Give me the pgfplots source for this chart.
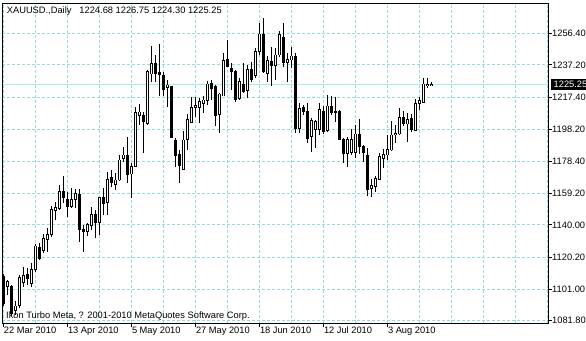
\documentclass[border=0pt]{standalone}
\usepackage{pgfplots}
\pgfplotsset{compat=1.18}
\usepackage{pgfplotstable}
\usepackage{fontspec}
\setmainfont{Liberation Sans}
\newcommand{\lab}{\fontsize{9.3pt}{11pt}\selectfont}
\definecolor{gridc}{RGB}{150,220,220}
\definecolor{pricec}{RGB}{170,236,236}

\pgfplotstableread{
i o h l c
0 1108.5 1110.2 1090.7 1092.4
1 1102.5 1106.5 1097.4 1105.5
2 1102.9 1103.5 1084.7 1086.3
3 1087.9 1093.8 1085.3 1090.7
4 1091.0 1109.6 1089.5 1108.2
5 1104.9 1114.6 1102.5 1109.1
6 1110.2 1113.6 1103.5 1107.6
7 1104.5 1116.7 1102.5 1113.0
8 1113.0 1128.4 1111.6 1127.2
9 1126.0 1128.8 1118.7 1119.7
10 1124.7 1134.5 1123.1 1131.9
11 1131.3 1138.1 1123.5 1133.9
12 1133.9 1151.5 1132.6 1149.5
13 1149.0 1154.1 1143.0 1150.7
14 1150.1 1164.2 1149.0 1160.2
15 1160.2 1169.7 1153.1 1156.5
16 1155.6 1160.2 1145.0 1151.1
17 1151.1 1162.2 1150.1 1155.6
18 1155.6 1161.6 1150.1 1159.2
19 1158.6 1161.6 1129.8 1137.3
20 1137.3 1139.9 1123.7 1135.9
21 1135.9 1141.3 1133.3 1140.4
22 1139.9 1151.1 1136.9 1146.4
23 1146.4 1149.0 1131.9 1141.6
24 1141.6 1157.1 1133.9 1156.5
25 1156.5 1162.2 1146.0 1153.1
26 1153.5 1172.3 1146.0 1167.7
27 1169.1 1173.3 1163.2 1165.6
28 1164.7 1171.3 1161.2 1167.3
29 1167.3 1182.5 1166.7 1179.4
30 1180.5 1187.5 1178.4 1182.5
31 1182.5 1193.2 1165.6 1170.7
32 1170.9 1177.8 1156.2 1175.4
33 1175.4 1211.8 1175.2 1208.4
34 1206.5 1213.4 1200.7 1208.6
35 1206.8 1208.8 1183.9 1202.7
36 1201.7 1234.1 1200.7 1233.1
37 1231.7 1248.7 1227.0 1238.2
38 1238.2 1243.2 1227.0 1232.1
39 1232.5 1249.9 1218.3 1231.1
40 1230.5 1233.1 1218.3 1222.4
41 1223.6 1228.0 1211.8 1225.0
42 1224.0 1224.4 1192.6 1193.2
43 1191.1 1192.6 1175.4 1182.0
44 1183.1 1185.5 1165.6 1176.0
45 1173.8 1197.2 1173.3 1191.6
46 1192.0 1207.4 1185.5 1204.2
47 1202.1 1217.5 1201.7 1211.4
48 1211.4 1217.5 1205.7 1212.8
49 1211.4 1216.9 1201.7 1214.8
50 1213.9 1218.3 1207.8 1215.9
51 1215.4 1227.6 1212.8 1225.6
52 1226.0 1228.0 1215.9 1222.6
53 1224.0 1225.0 1200.1 1206.2
54 1206.8 1219.9 1196.0 1219.5
55 1218.3 1244.6 1218.3 1239.7
56 1240.6 1252.3 1236.1 1236.1
57 1235.1 1238.5 1221.9 1233.1
58 1233.1 1234.1 1214.8 1215.9
59 1216.9 1229.1 1215.9 1227.0
60 1225.6 1238.2 1219.9 1220.9
61 1221.9 1237.1 1216.9 1234.5
62 1234.5 1239.1 1227.0 1228.5
63 1230.5 1247.3 1229.1 1245.2
64 1245.2 1262.8 1243.2 1256.0
65 1256.0 1265.5 1232.1 1233.1
66 1232.1 1242.6 1227.0 1239.7
67 1239.1 1247.9 1224.4 1237.1
68 1237.1 1247.3 1228.0 1243.2
69 1243.2 1258.0 1242.2 1255.4
70 1254.0 1262.5 1235.7 1238.5
71 1238.5 1244.6 1227.0 1240.6
72 1240.2 1248.3 1235.1 1242.6
73 1242.6 1244.6 1196.0 1198.7
74 1198.7 1213.9 1196.0 1210.8
75 1211.4 1212.8 1206.8 1208.8
76 1208.8 1213.9 1189.6 1192.2
77 1193.6 1204.8 1184.5 1203.3
78 1198.1 1203.7 1186.5 1202.7
79 1198.1 1214.2 1194.6 1210.2
80 1208.8 1212.2 1195.2 1196.6
81 1197.2 1218.9 1196.6 1212.2
82 1212.2 1218.3 1206.8 1208.2
83 1208.8 1217.5 1202.7 1208.2
84 1208.8 1209.8 1191.6 1192.0
85 1192.0 1192.6 1177.4 1183.1
86 1183.5 1193.2 1175.4 1192.0
87 1183.9 1198.1 1182.5 1192.0
88 1183.9 1200.7 1180.5 1195.2
89 1195.2 1204.2 1183.1 1187.9
90 1187.9 1188.5 1178.4 1183.9
91 1182.5 1186.5 1157.6 1161.6
92 1162.2 1167.7 1156.8 1164.2
93 1163.2 1169.7 1160.2 1168.3
94 1167.7 1183.9 1167.3 1181.4
95 1180.5 1185.9 1174.4 1182.9
96 1182.5 1194.6 1179.4 1185.9
97 1185.5 1203.3 1185.1 1194.6
98 1194.6 1200.7 1189.6 1195.6
99 1195.2 1210.8 1194.6 1205.4
100 1205.4 1209.4 1200.1 1201.3
101 1201.3 1207.8 1190.5 1204.2
102 1204.8 1207.4 1196.6 1198.1
103 1197.6 1216.3 1197.2 1213.9
104 1213.9 1217.5 1209.8 1215.3
105 1214.2 1229.1 1214.2 1225.6
106 1224.9 1229.1 1223.0 1225.5
107 1224.68 1226.75 1224.30 1225.25
}\data

\begin{document}
\begin{tikzpicture}
\useasboundingbox[fill=white] (0,0) rectangle (586pt,340pt);
% background axis: grid, price line, wicks
\begin{axis}[
  at={(2pt,17pt)}, anchor=south west,
  scale only axis, width=546pt, height=320pt,
  xmin=-0.325, xmax=136.175, ymin=1080.4, ymax=1274.8,
  enlargelimits=false,
  axis line style={draw=none},
  tick style={draw=none},
  xtick={0,8,...,136},
  ytick={1081.8,1101,1120.2,1140,1159.2,1178.4,1198.2,1217.4,1237.2,1256.4},
  xticklabels={}, yticklabels={},
  grid=major,
  major grid style={gridc, line width=0.8pt, dash pattern=on 3pt off 2pt},
]
\addplot[pricec, line width=1pt] coordinates {(-0.325,1225.25) (136.175,1225.25)};
% wicks
\addplot[draw=none, mark=none,
  error bars/.cd, y dir=both, y explicit, error mark=none,
  error bar style={draw=black, solid, line width=0.9pt}]
  table[x=i, y expr={(\thisrow{h}+\thisrow{l})/2}, y error expr={(\thisrow{h}-\thisrow{l})/2}] {\data};
\end{axis}
% foreground axis: bodies and frame
\begin{axis}[
  at={(2pt,17pt)}, anchor=south west,
  scale only axis, width=546pt, height=320pt,
  xmin=-0.325, xmax=136.175, ymin=1080.4, ymax=1274.8,
  enlargelimits=false,
  axis line style={black, line width=0.8pt},
  xtick={0,16,32,48,64,80,96},
  xticklabels={22 Mar 2010, 13 Apr 2010, 5 May 2010, 27 May 2010, 18 Jun 2010, 12 Jul 2010, 3 Aug 2010},
  ytick={1081.8,1101,1120.2,1140,1159.2,1178.4,1198.2,1217.4,1237.2,1256.4},
  yticklabels={1081.80,1101.00,1120.20,1140.00,1159.20,1178.40,1198.20,1217.40,1237.20,1256.40},
  xtick pos=left, ytick pos=right, yticklabel pos=right,
  tick align=outside, major tick length=4pt,
  tick style={black, line width=0.8pt},
  xticklabel style={font=\lab, anchor=north west, inner sep=0pt, xshift=0.5pt},
  yticklabel style={font=\lab, anchor=west, inner sep=0pt},
]
% body outlines (black, full body)
\addplot[draw=none, mark=none,
  error bars/.cd, y dir=both, y explicit, error mark=none,
  error bar style={draw=black, solid, line width=3.2pt}]
  table[x=i, y expr={(\thisrow{o}+\thisrow{c})/2}, y error expr={abs(\thisrow{o}-\thisrow{c})/2+0.27}] {\data};
% white interiors of rising candles
\addplot[draw=none, mark=none,
  error bars/.cd, y dir=both, y explicit, error mark=none,
  error bar style={draw=white, solid, line width=1.4pt}]
  table[x=i, y expr={(\thisrow{o}+\thisrow{c})/2}, y error expr={max((\thisrow{c}-\thisrow{o})/2-0.27,0)}] {\data};
\coordinate (pl) at (axis cs:136.175,1225.25);
\end{axis}
\node[fill=black, text=white, font=\lab, anchor=west, inner xsep=3pt, inner ysep=2pt, minimum height=11.5pt] at ([xshift=2.5pt]pl) {1225.25};
\node[font=\lab, anchor=base west, inner sep=0pt] at (6.7pt,326pt) {XAUUSD.,Daily\hspace{8pt}1224.68 1226.75 1224.30 1225.25};
\node[font=\lab, anchor=base west, inner sep=0pt] at (6pt,22pt) {Ikon Turbo Meta, ? 2001-2010 MetaQuotes Software Corp.};
\end{tikzpicture}
\end{document}
